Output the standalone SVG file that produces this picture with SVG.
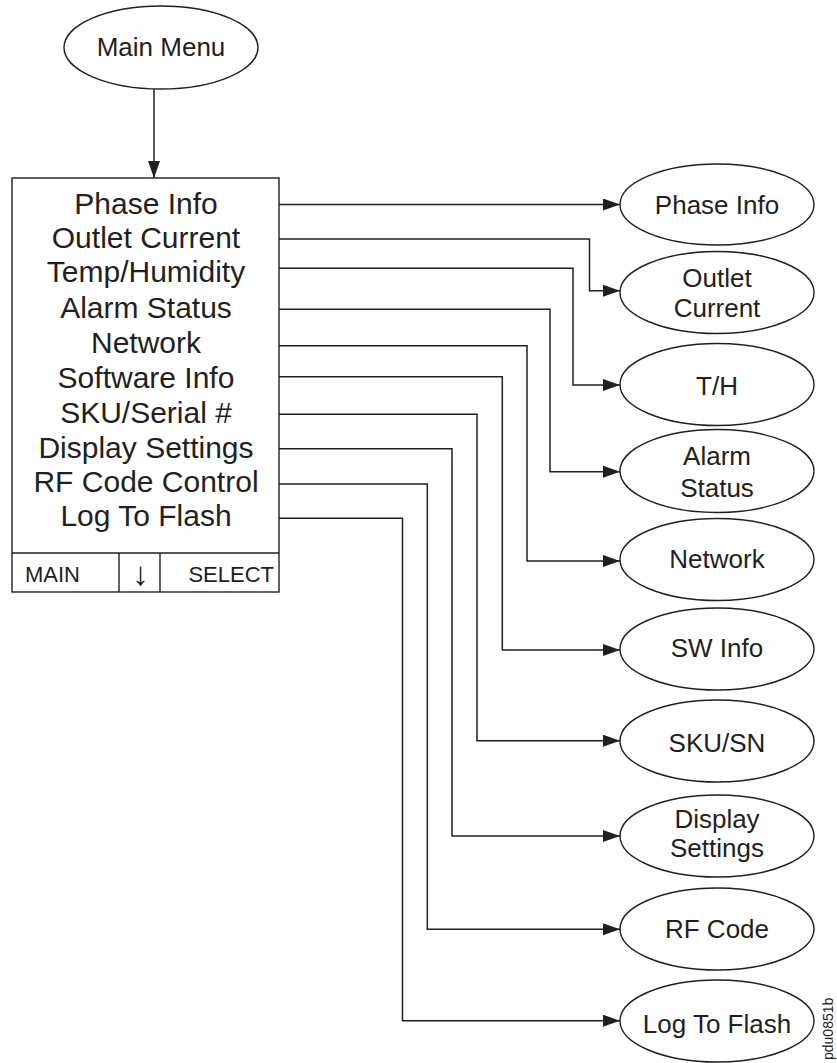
<svg xmlns="http://www.w3.org/2000/svg" width="837" height="1063" viewBox="0 0 837 1063">
<style>
.shape{fill:#fff;stroke:#231f20;stroke-width:1.4}
.t{font-family:"Liberation Sans",Arial,sans-serif;fill:#231f20}
.big{font-size:30px;text-anchor:middle}
.mid{font-size:26px;text-anchor:middle}
.sm{font-size:22px}
.conn path{fill:none;stroke:#231f20;stroke-width:1.5}
</style>
<defs>
<marker id="ah" markerUnits="userSpaceOnUse" markerWidth="18" markerHeight="13" refX="17" refY="6" orient="auto">
<path d="M0,0 L17,6 L0,12 z" fill="#231f20"/>
</marker>
</defs>
<rect width="837" height="1063" fill="#fff"/>

<g id="main-menu">
<ellipse class="shape" cx="161" cy="47.5" rx="97" ry="41.5"/>
<text class="t mid" x="161" y="56">Main Menu</text>
</g>

<g id="menu-box">
<rect class="shape" x="12" y="178" width="267" height="414"/>
<line class="shape" x1="12" y1="553" x2="279" y2="553"/>
<line class="shape" x1="119" y1="553" x2="119" y2="592"/>
<line class="shape" x1="160" y1="553" x2="160" y2="592"/>
<text class="t big" x="146" y="214.3">Phase Info</text>
<text class="t big" x="146" y="248.3">Outlet Current</text>
<text class="t big" x="146" y="281.7">Temp/Humidity</text>
<text class="t big" x="146" y="318.3">Alarm Status</text>
<text class="t big" x="146" y="353.3">Network</text>
<text class="t big" x="146" y="387.7">Software Info</text>
<text class="t big" x="146" y="423.3">SKU/Serial #</text>
<text class="t big" x="146" y="457.7">Display Settings</text>
<text class="t big" x="146" y="491.7">RF Code Control</text>
<text class="t big" x="146" y="525.7">Log To Flash</text>
<text class="t sm" x="25" y="582">MAIN</text>
<text class="t" x="140.5" y="585" font-size="33" text-anchor="middle">↓</text>
<text class="t sm" x="274" y="582" text-anchor="end">SELECT</text>
</g>

<g id="n-phase">
<ellipse class="shape" cx="717" cy="204.5" rx="97" ry="40.5"/>
<text class="t mid" x="717" y="214">Phase Info</text>
</g>
<g id="n-outlet">
<ellipse class="shape" cx="717" cy="292.5" rx="97" ry="41"/>
<text class="t mid" x="717" y="286.7">Outlet</text>
<text class="t mid" x="717" y="316.7">Current</text>
</g>
<g id="n-th">
<ellipse class="shape" cx="717" cy="384.5" rx="97" ry="41"/>
<text class="t mid" x="717" y="395">T/H</text>
</g>
<g id="n-alarm">
<ellipse class="shape" cx="717" cy="471" rx="97" ry="41.5"/>
<text class="t mid" x="717" y="465">Alarm</text>
<text class="t mid" x="717" y="496.7">Status</text>
</g>
<g id="n-network">
<ellipse class="shape" cx="717" cy="559.5" rx="97" ry="41"/>
<text class="t mid" x="717" y="568.3">Network</text>
</g>
<g id="n-sw">
<ellipse class="shape" cx="717" cy="649" rx="97" ry="41"/>
<text class="t mid" x="717" y="657">SW Info</text>
</g>
<g id="n-sku">
<ellipse class="shape" cx="717" cy="741" rx="97" ry="41"/>
<text class="t mid" x="717" y="751.5">SKU/SN</text>
</g>
<g id="n-display">
<ellipse class="shape" cx="717" cy="836" rx="97" ry="41"/>
<text class="t mid" x="717" y="828.3">Display</text>
<text class="t mid" x="717" y="856.7">Settings</text>
</g>
<g id="n-rf">
<ellipse class="shape" cx="717" cy="929" rx="97" ry="41"/>
<text class="t mid" x="717" y="938.3">RF Code</text>
</g>
<g id="n-log">
<ellipse class="shape" cx="717" cy="1021" rx="97" ry="41"/>
<text class="t mid" x="717" y="1033">Log To Flash</text>
</g>

<g id="connectors" class="conn">
<path d="M154,89 V178" marker-end="url(#ah)"/>
<path d="M279,204.5 H620" marker-end="url(#ah)"/>
<path d="M279,239 H589.5 V290.7 H620" marker-end="url(#ah)"/>
<path d="M279,268.3 H573 V385 H620" marker-end="url(#ah)"/>
<path d="M279,309.3 H550 V471.7 H620" marker-end="url(#ah)"/>
<path d="M279,345.7 H527 V561 H620" marker-end="url(#ah)"/>
<path d="M279,376.7 H502.3 V650 H620" marker-end="url(#ah)"/>
<path d="M279,414.3 H477 V740.7 H620" marker-end="url(#ah)"/>
<path d="M279,448.7 H452 V836 H620" marker-end="url(#ah)"/>
<path d="M279,484 H427.3 V929.3 H620" marker-end="url(#ah)"/>
<path d="M279,518.3 H402.5 V1020.7 H620" marker-end="url(#ah)"/>
</g>

<text class="t" x="833" y="1060" font-size="14" transform="rotate(-90 833 1060)">pdu0851b</text>
</svg>
